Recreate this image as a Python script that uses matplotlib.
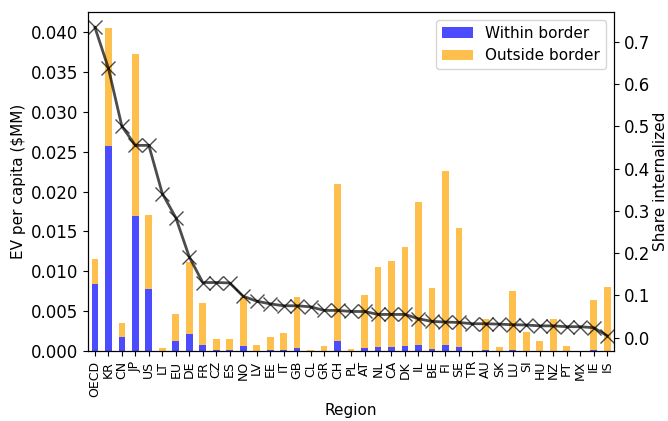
import matplotlib
matplotlib.use("Agg")
import matplotlib.pyplot as plt
import numpy as np

regions = ["OECD", "KR", "CN", "JP", "US", "LT", "EU", "DE", "FR", "CZ", "ES", "NO",
           "LV", "EE", "IT", "GB", "CL", "GR", "CH", "PL", "AT", "NL", "CA", "DK",
           "IL", "BE", "FI", "SE", "TR", "AU", "SK", "LU", "SI", "HU", "NZ", "PT",
           "MX", "IE", "IS"]

total = [0.0115, 0.0405, 0.0035, 0.0372, 0.0171, 0.0004, 0.0047, 0.0112, 0.0060, 0.0015,
         0.0015, 0.0068, 0.0008, 0.00175, 0.00225, 0.00675, 0.0001, 0.0007, 0.0209, 0.00025,
         0.0070, 0.0105, 0.01125, 0.0130, 0.01875, 0.0079, 0.0226, 0.0154, 0.0, 0.0040,
         0.00055, 0.0076, 0.0024, 0.00125, 0.0040, 0.00065, 0.0, 0.0064, 0.0081]

within = [0.0084, 0.02575, 0.00175, 0.0169, 0.0078, 0.00005, 0.00125, 0.0021, 0.0008, 0.0001,
          0.0001, 0.0006, 0.0, 0.0001, 0.00015, 0.00045, 0.0, 0.0, 0.00125, 0.0,
          0.0004, 0.00055, 0.00055, 0.00065, 0.0008, 0.00025, 0.0008, 0.00055, 0.0, 0.0001,
          0.0, 0.00015, 0.0, 0.0, 0.0, 0.0, 0.0, 0.0001, 0.0]

share = [0.734, 0.6375, 0.500, 0.455, 0.455, 0.341, 0.284, 0.191, 0.1305, 0.1305,
         0.1295, 0.098, 0.0865, 0.080, 0.0755, 0.0755, 0.073, 0.0645, 0.0645, 0.062,
         0.062, 0.055, 0.055, 0.055, 0.0448, 0.0385, 0.037, 0.036, 0.033, 0.033,
         0.032, 0.0307, 0.030, 0.028, 0.028, 0.026, 0.026, 0.0236, 0.0047]

outside = [t - w for t, w in zip(total, within)]
x = np.arange(len(regions))

fig = plt.figure(figsize=(6.68, 4.21), dpi=100)
ax = fig.add_axes([0.132, 0.166, 0.787, 0.8055])
ax.bar(x, within, width=0.5, color="blue", alpha=0.7, label="Within border")
ax.bar(x, outside, width=0.5, bottom=within, color="orange", alpha=0.7, label="Outside border")
ax.set_xlim(-0.5, len(regions) - 0.5)
ax.set_ylim(0, max(total) * 1.05)
ax.set_xticks(x)
ax.set_xticklabels(regions, rotation=90, fontsize=9)
ax.tick_params(axis="y", labelsize=12)
ax.set_ylabel("EV per capita ($MM)", fontsize=11)
ax.set_xlabel("Region", fontsize=11)
ax.legend(loc="upper right", fontsize=11)

ax2 = ax.twinx()
ax2.plot(x, share, color="black", alpha=0.7, marker="x", markersize=10, linewidth=2)
ax2.set_ylabel("Share internalized", fontsize=11, labelpad=2)
ax2.tick_params(axis="y", labelsize=12)
ax2.set_xlim(-0.5, len(regions) - 0.5)

fig.savefig("out.png", dpi=100)
